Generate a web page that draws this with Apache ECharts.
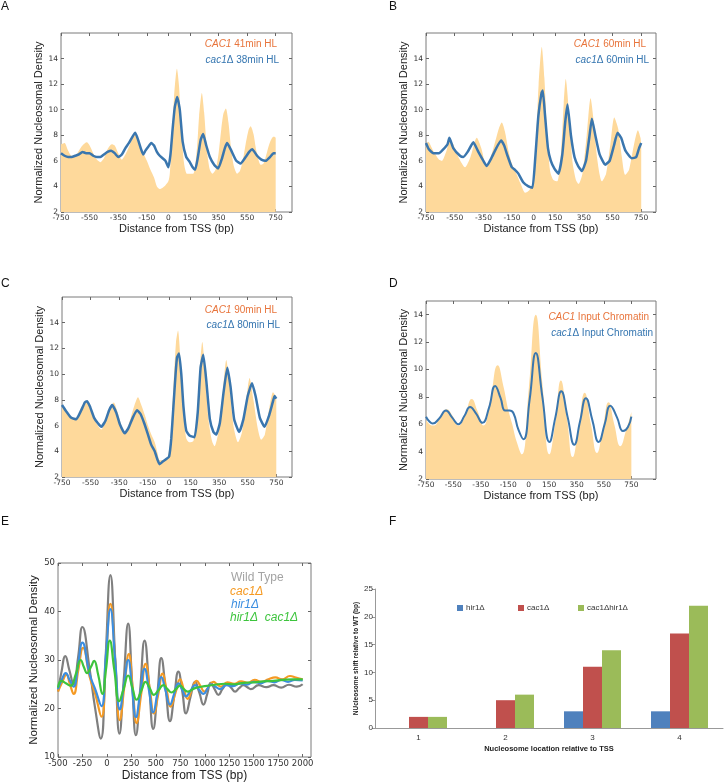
<!DOCTYPE html>
<html><head><meta charset="utf-8">
<script src="https://cdn.jsdelivr.net/npm/echarts@6/dist/echarts.min.js"></script>
<style>html,body{margin:0;padding:0;background:#fff}#c{width:724px;height:783px}</style>
</head><body><div id="c"></div>
<script>
// ---------- Panel A ----------
const aFillX=[-750,-725,-700,-675,-650,-625,-600,-570,-550,-525,-500,-475,-450,-425,-395,-375,-350,-325,-300,-275,-250,-231,-210,-190,-170,-150,-125,-100,-80,-60,-40,-20,0,10,25,40,60,75,90,110,130,150,175,200,215,234,250,270,290,308,330,350,370,385,402,420,440,460,481,500,520,540,560,575,595,615,645,665,685,705,725,738,750];
const aFill=[7.3,7.4,6.8,6.4,6.4,6.8,7.2,7.45,7.2,6.6,6.1,5.9,6.2,6.9,7.3,7.2,6.6,6.1,6.5,7.1,7.8,8.2,7.6,7.0,6.5,6.0,5.3,4.7,4.0,3.8,3.9,4.1,4.4,5.0,7.5,11.0,13.2,11.8,8.5,5.8,5.0,5.0,5.0,7.0,9.5,11.3,9.8,6.8,5.3,5.0,5.3,6.5,8.5,9.7,10.1,9.0,6.8,5.5,5.0,5.2,6.0,7.3,8.4,8.7,8.1,6.8,5.7,5.8,6.5,7.3,7.8,7.9,7.8];
const aBlueX=[-750,-725,-700,-675,-650,-625,-600,-575,-550,-525,-500,-475,-450,-425,-400,-375,-350,-325,-300,-275,-250,-231,-210,-190,-175,-160,-140,-120,-100,-80,-60,-40,-20,0,15,30,45,62,80,100,125,150,170,187,205,225,243,265,290,320,348,375,395,411,440,475,505,540,565,586,620,650,680,710,735,750];
const aBlue=[6.6,6.4,6.3,6.3,6.4,6.5,6.7,6.6,6.6,6.4,6.3,6.3,6.5,6.7,6.8,6.6,6.3,6.5,7.0,7.4,7.9,8.2,7.6,6.9,6.5,6.8,7.1,7.4,7.2,6.7,6.4,6.2,6.0,5.5,6.5,8.5,10.2,11.0,10.0,7.5,6.3,5.9,5.5,5.3,6.2,7.6,8.1,7.2,6.3,5.7,5.4,6.2,7.0,7.4,6.8,6.0,5.8,6.3,6.7,6.9,6.4,6.1,6.0,6.3,6.6,6.6];
// ---------- Panel B ----------
const bFillX=[-750,-735,-700,-660,-640,-610,-583,-560,-520,-478,-440,-396,-365,-327,-280,-240,-222,-200,-175,-152,-120,-90,-59,-30,-5,15,35,57,75,95,115,138,165,190,210,224,245,270,295,313,340,370,397,420,445,476,505,535,562,590,615,638,665,700,727,745,750];
const bFill=[7.3,7.5,6.8,6.1,6.0,6.7,7.6,7.3,6.2,5.5,6.3,7.8,7.0,5.5,7.0,8.6,9.0,8.3,6.8,5.8,5.0,4.2,3.5,3.7,4.3,7.0,12.0,14.9,12.5,8.0,5.2,4.5,4.4,6.5,10.5,12.4,10.0,6.0,4.5,4.2,5.0,8.0,10.9,9.0,6.0,4.4,5.0,7.3,9.4,8.5,6.3,4.9,5.3,7.3,8.4,7.8,7.2];
const bBlueX=[-750,-730,-699,-660,-630,-600,-587,-560,-513,-490,-460,-420,-385,-350,-327,-295,-260,-227,-205,-185,-152,-130,-106,-71,-36,-8,10,33,55,64,80,100,120,145,173,200,220,236,260,285,310,336,365,390,406,430,460,499,530,560,585,610,640,685,715,735,750];
const bBlue=[7.4,6.9,6.6,6.6,6.9,7.3,7.8,7.0,6.4,6.3,6.7,7.45,6.7,6.0,5.6,6.2,7.0,7.6,7.2,6.5,5.5,5.3,5.0,4.3,4.0,3.9,6.0,9.5,11.3,11.5,9.5,7.0,6.0,5.4,5.0,6.5,9.0,10.4,8.0,6.3,5.6,5.2,6.0,8.0,9.3,8.0,6.5,5.7,6.0,7.2,8.2,7.8,6.8,6.2,6.3,7.0,7.4];
// ---------- Panel C ----------
const cFillX=[-750,-720,-685,-650,-610,-575,-545,-510,-475,-440,-410,-388,-360,-335,-311,-280,-245,-218,-195,-170,-148,-125,-101,-80,-67,-45,-20,-8,10,30,48,62,80,100,120,143,170,195,215,232,250,275,300,318,345,375,400,420,450,482,510,540,563,590,620,645,670,700,727,745,750];
const cFill=[7.6,7.2,6.6,6.5,7.2,7.9,7.3,6.2,5.7,6.5,7.4,7.8,7.0,6.0,5.4,6.2,7.5,8.2,7.6,6.8,6.0,5.3,4.7,3.8,3.3,3.3,3.4,3.6,5.0,9.0,12.5,13.4,11.0,7.0,5.0,4.7,4.8,7.0,10.5,12.5,10.5,6.5,4.8,4.4,5.5,8.5,11.1,9.5,6.0,4.7,5.5,8.0,9.7,8.0,5.8,4.9,5.3,7.3,8.6,8.3,8.0];
const cBlueX=[-750,-720,-685,-650,-615,-590,-575,-555,-525,-500,-475,-445,-420,-398,-370,-345,-311,-285,-255,-225,-200,-175,-148,-125,-101,-80,-67,-45,-20,0,15,30,45,55,69,85,100,120,145,178,200,220,239,260,285,310,330,355,380,407,430,455,490,520,550,580,605,635,668,700,725,738,750];
const cBlue=[7.6,7.1,6.6,6.5,7.2,7.8,7.9,7.5,6.6,6.2,5.9,6.4,7.2,7.6,7.0,6.1,5.4,5.8,6.6,7.2,6.9,6.2,5.3,4.5,4.0,3.3,3.0,3.2,3.4,3.6,5.0,7.5,10.0,11.3,11.6,10.0,7.5,5.6,5.2,5.1,7.0,10.5,11.5,9.5,6.5,5.5,5.3,6.2,8.5,10.5,9.0,6.5,5.5,6.5,8.3,9.3,8.3,6.6,5.9,6.8,7.8,8.3,8.1];
// ---------- Panel D ----------
const dFillX=[-750,-725,-696,-650,-599,-555,-513,-465,-416,-375,-330,-280,-226,-185,-148,-120,-90,-50,0,52,100,152,195,235,280,321,365,409,455,499,540,584,625,670,710,750];
const dFill=[6.3,6.0,5.9,6.4,7.1,6.6,5.9,6.7,7.85,7.0,5.9,7.8,10.3,8.8,7.0,6.0,4.8,3.8,8.5,14.0,9.0,3.8,6.2,9.2,6.4,3.6,5.8,8.3,6.0,3.9,5.6,7.6,6.0,4.4,5.5,6.9];
const dBlueX=[-750,-725,-701,-655,-604,-560,-513,-470,-428,-385,-338,-290,-245,-205,-172,-140,-111,-75,-38,7,52,100,152,195,238,285,333,375,418,465,511,555,596,645,689,725,750];
const dBlue=[6.55,6.2,6.05,6.4,7.0,6.5,6.0,6.6,7.25,6.8,6.1,7.2,8.8,7.9,7.0,7.0,6.8,5.6,4.9,7.8,11.2,8.0,4.7,6.5,8.4,6.5,4.5,6.2,7.9,6.3,4.7,6.0,7.35,6.5,5.5,5.8,6.55];
// ---------- Panel E ----------
const eWTX=[-500,-465,-425,-385,-340,-295,-251,-176,-124,-63,-15,36,85,128,172,217,258,296,340,385,430,473,515,555,600,644,687,730,770,808,855,900,945,986,1025,1061,1100,1139,1180,1225,1268,1310,1350,1395,1435,1470,1550,1630,1700,1780,1860,1940,2000];
const eWT=[23.5,27.5,30.8,28,25,30.5,36.8,28,20.5,13.8,30,47.5,30,14.8,26,37.5,25,14.5,24,34,25,15.8,23,30.4,24,17.4,22.5,27.6,23.5,19,22.5,25.5,23.2,20.8,23,25.3,24,22.8,24,25,24.3,23.5,24.2,24.8,24.4,24.0,24.8,24.4,24.8,24.3,24.9,24.5,25.0];
const eCacX=[-500,-455,-415,-378,-340,-292,-244,-176,-120,-56,-10,36,84,132,178,224,264,303,350,395,438,480,525,569,610,651,700,747,785,825,870,917,956,996,1040,1088,1125,1163,1230,1300,1370,1440,1510,1580,1650,1720,1790,1870,1930,2000];
const eCac=[23.5,25.5,27.0,25,23.0,28,32.5,26.5,23,18.3,30,41.6,30,17.6,24.5,31.2,24,17.0,23,29.2,24,19.0,23,27.2,23.8,20.4,23.2,26.0,24,22,24,25.7,24.6,23.5,24.5,25.5,25,24.5,25.4,25.1,25.6,25.3,25.9,25.5,26.0,26.4,26.0,26.7,26.4,26.0];
const eHirX=[-500,-460,-421,-380,-340,-295,-251,-176,-120,-56,-10,36,84,132,175,217,258,296,340,385,430,473,515,555,600,644,687,730,770,808,855,900,945,986,1025,1061,1110,1155,1220,1290,1360,1430,1500,1570,1640,1710,1780,1850,1920,2000];
const eHir=[24,26,27.3,25.8,24.5,29,33.6,27,24,20.5,31,40.5,30,19.8,25,30.0,24,18.2,23.2,28.2,23.7,19.2,23,26.5,23.6,20.8,23,25.2,23.8,22.5,23.7,24.8,23.8,23,24,25,24.5,24,24.8,24.6,25.2,24.9,25.5,25.2,25.7,25.4,25.9,25.5,25.9,25.8];
const eDblX=[-500,-466,-420,-370,-320,-268,-235,-203,-165,-131,-90,-46,-10,29,75,125,170,217,260,303,350,395,437,480,528,576,618,661,705,747,785,822,900,1000,1100,1200,1300,1400,1500,1600,1700,1800,1900,2000];
const eDbl=[24.3,25.7,25.2,24.7,27,30.0,28.5,27.3,28.5,29.8,27,23.0,28,34.0,28,21.5,24,26.8,24.3,21.8,23.6,25.5,24.2,22.8,23.8,24.8,24,23.3,24,24.7,24,23.5,24.2,24.6,24.9,25.1,25.0,25.3,25.4,25.6,25.7,25.9,26.0,26.0];
// ---------- Panel F ----------
const fCats=['1','2','3','4'];
const fHir=[0,0,3,3];
const fCac=[2,5,11,17];
const fDbl=[2,6,14,22];
// ---------- tick labels ----------
const tssTicks=[-750,-550,-350,-150,0,150,350,550,750];
const densTicks=[2,4,6,8,10,12,14];
const eXTicks=[-500,-250,0,250,500,750,1000,1250,1500,1750,2000];
const eYTicks=[10,20,30,40,50];

const pair=(xs,ys)=>xs.map((x,i)=>[x,ys[i]]);
const FILL='#FED99B', BLUE='#3A76AE', ORANGE_T='#E8743B', BLUE_T='#3475B0';
const TF='Liberation Sans', NF='DejaVu Sans';
const plain=v=>String(v);

const grids=[
  {left:61,top:33,width:231,height:179},
  {left:426,top:33,width:230,height:179},
  {left:62,top:297,width:230,height:180},
  {left:426,top:301,width:230,height:178},
  {left:58,top:563,width:253,height:196},
  {left:375,top:589,width:348,height:139}
].map(g=>Object.assign({show:true,borderColor:'#7a7a7a',borderWidth:1,backgroundColor:'transparent'},g));
grids[5].show=false;

const xMaxes=[864,853,860,930];
const xAxes=[], yAxes=[];
const tick=(vals)=>({inside:true,length:3,lineStyle:{color:'#666'},customValues:vals});
function mirrorX(gi,min,max,vals){return {type:'value',gridIndex:gi,position:'top',min:min,max:max,axisLine:{show:false,onZero:false},splitLine:{show:false},axisTick:tick(vals),axisLabel:{show:false}};}
function mirrorY(gi,min,max,vals){return {type:'value',gridIndex:gi,position:'right',min:min,max:max,axisLine:{show:false,onZero:false},splitLine:{show:false},axisTick:tick(vals),axisLabel:{show:false}};}
for(let i=0;i<4;i++){
  xAxes.push({type:'value',gridIndex:i,min:-750,max:xMaxes[i],position:'bottom',
    name:'Distance from TSS (bp)',nameLocation:'middle',nameGap:11,
    nameTextStyle:{fontFamily:TF,fontSize:11,color:'#222'},
    axisLine:{show:false,onZero:false},splitLine:{show:false},
    axisTick:tick(tssTicks),
    axisLabel:{customValues:tssTicks,formatter:plain,fontFamily:NF,fontSize:7.5,color:'#333',margin:2}});
  yAxes.push({type:'value',gridIndex:i,min:2,max:i===3?15:16,position:'left',
    name:'Normalized Nucleosomal Density',nameLocation:'middle',nameGap:13,
    nameTextStyle:{fontFamily:TF,fontSize:11,color:'#222'},
    axisLine:{show:false,onZero:false},splitLine:{show:false},
    axisTick:tick(densTicks),
    axisLabel:{customValues:densTicks,formatter:plain,fontFamily:NF,fontSize:7.5,color:'#333',margin:3}});
}
xAxes.push({type:'value',gridIndex:4,min:-500,max:2085,position:'bottom',
  name:'Distance from TSS (bp)',nameLocation:'middle',nameGap:13,
  nameTextStyle:{fontFamily:TF,fontSize:12,color:'#222'},
  axisLine:{show:false,onZero:false},splitLine:{show:false},
  axisTick:tick(eXTicks),
  axisLabel:{customValues:eXTicks,formatter:plain,fontFamily:NF,fontSize:8.5,color:'#333',margin:2}});
yAxes.push({type:'value',gridIndex:4,min:10,max:50,position:'left',
  name:'Normalized Nucleosomal Density',nameLocation:'middle',nameGap:16,
  nameTextStyle:{fontFamily:TF,fontSize:11.5,color:'#222'},
  axisLine:{show:false,onZero:false},splitLine:{show:false},
  axisTick:tick(eYTicks),
  axisLabel:{customValues:eYTicks,formatter:plain,fontFamily:NF,fontSize:8.5,color:'#333',margin:3}});
xAxes.push({type:'category',gridIndex:5,data:fCats,position:'bottom',
  name:'Nucleosome location relative to TSS',nameLocation:'middle',nameGap:17,
  nameTextStyle:{fontFamily:TF,fontSize:7.5,fontWeight:'bold',color:'#222'},
  axisLine:{lineStyle:{color:'#999'}},axisTick:{length:3,lineStyle:{color:'#999'}},
  axisLabel:{fontFamily:TF,fontSize:8,color:'#333',margin:6}});
yAxes.push({type:'value',gridIndex:5,min:0,max:25,interval:5,position:'left',
  name:'NUcleosome shift relative to WT (bp)',nameLocation:'middle',nameGap:15,
  nameTextStyle:{fontFamily:TF,fontSize:6.5,fontWeight:'bold',color:'#222'},
  axisLine:{show:true,onZero:false,lineStyle:{color:'#999'}},axisTick:{show:true,length:3,lineStyle:{color:'#999'}},
  splitLine:{show:false},
  axisLabel:{fontFamily:TF,fontSize:8,color:'#333',margin:2}});
// mirrored inside ticks on top/right (matplotlib style)
for(let i=0;i<4;i++){ xAxes.push(mirrorX(i,-750,xMaxes[i],tssTicks)); yAxes.push(mirrorY(i,2,i===3?15:16,densTicks)); }
xAxes.push(mirrorX(4,-500,2085,eXTicks)); yAxes.push(mirrorY(4,10,50,eYTicks));

const panelData=[[aFillX,aFill,aBlueX,aBlue],[bFillX,bFill,bBlueX,bBlue],[cFillX,cFill,cBlueX,cBlue],[dFillX,dFill,dBlueX,dBlue]];
const series=[];
const fillNames=['CAC1 41min HL','CAC1 60min HL','CAC1 90min HL','CAC1 Input Chromatin'];
const blueNames=['cac1Δ 38min HL','cac1Δ 60min HL','cac1Δ 80min HL','cac1Δ Input Chromatin'];
panelData.forEach((p,i)=>{
  series.push({type:'line',name:fillNames[i],xAxisIndex:i,yAxisIndex:i,data:pair(p[0],p[1]),
    showSymbol:false,smooth:i===3?0.5:0.25,lineStyle:{width:0},itemStyle:{color:FILL},
    areaStyle:{color:FILL,opacity:1,origin:'start'},silent:true,z:1});
  series.push({type:'line',name:blueNames[i],xAxisIndex:i,yAxisIndex:i,data:pair(p[2],p[3]),
    showSymbol:false,smooth:i===3?0.5:0.15,lineStyle:{width:i===3?2:2.5,color:BLUE},itemStyle:{color:BLUE},z:2});
});
const eSeries=[['Wild Type (E)',eWTX,eWT,'#7F7F7F'],['cac1Δ (E)',eCacX,eCac,'#F59A23'],['hir1Δ (E)',eHirX,eHir,'#3C8EE0'],['hir1Δ cac1Δ (E)',eDblX,eDbl,'#3DC43D']];
eSeries.forEach(s=>series.push({type:'line',name:s[0],xAxisIndex:4,yAxisIndex:4,data:pair(s[1],s[2]),
  showSymbol:false,smooth:0.5,lineStyle:{width:2.2,color:s[3]},itemStyle:{color:s[3]}}));
[['hir1Δ',fHir,'#4F81BD'],['cac1Δ',fCac,'#C0504D'],['cac1Δhir1Δ',fDbl,'#9BBB59']].forEach(s=>series.push({
  type:'bar',name:s[0],xAxisIndex:5,yAxisIndex:5,data:s[1],barWidth:19,barGap:'0%',itemStyle:{color:s[2]}}));

function legendText(x,y,txt,color,size,align){
  return {type:'text',x:x,y:y,style:{text:txt,fill:color,fontSize:size,fontFamily:TF,
    align:align||'right',textAlign:align||'right',verticalAlign:'middle',textVerticalAlign:'middle',
    rich:{i:{fontStyle:'italic',fill:color,fontSize:size,fontFamily:TF}}}};
}
function letter(x,y,t){return {type:'text',x:x,y:y,style:{text:t,fill:'#111',fontSize:12,fontFamily:TF,align:'left',textAlign:'left',verticalAlign:'middle',textVerticalAlign:'middle'}};}
const graphics=[
  letter(1,7,'A'),letter(389,7,'B'),letter(1,284,'C'),letter(389,284,'D'),letter(1,522,'E'),letter(389,522,'F'),
  legendText(277,44,'{i|CAC1} 41min HL',ORANGE_T,10),
  legendText(279,60,'{i|cac1}Δ 38min HL',BLUE_T,10),
  legendText(646,44,'{i|CAC1} 60min HL',ORANGE_T,10),
  legendText(649,60,'{i|cac1}Δ 60min HL',BLUE_T,10),
  legendText(277,310,'{i|CAC1} 90min HL',ORANGE_T,10),
  legendText(280,325,'{i|cac1}Δ 80min HL',BLUE_T,10),
  legendText(649,317,'{i|CAC1} Input Chromatin',ORANGE_T,10),
  legendText(653,333,'{i|cac1}Δ Input Chromatin',BLUE_T,10),
  legendText(231,578,'Wild Type','#A3A3A3',12,'left'),
  legendText(230,592,'{i|cac1Δ}','#F59A23',12,'left'),
  legendText(231,605,'{i|hir1Δ}','#3C8EE0',12,'left'),
  legendText(230,618,'{i|hir1Δ  cac1Δ}','#3DC43D',12,'left')
];
const legends=[['hir1Δ',457],['cac1Δ',518],['cac1Δhir1Δ',578]].map(l=>({data:[l[0]],left:l[1],top:604,padding:0,
  icon:'rect',itemWidth:6,itemHeight:6,itemGap:0,selectedMode:false,textStyle:{fontFamily:TF,fontSize:8,color:'#333',padding:[0,0,0,-2]}}));

const chart=echarts.init(document.getElementById('c'),null,{renderer:'canvas'});
chart.setOption({animation:false,backgroundColor:'#fff',grid:grids,xAxis:xAxes,yAxis:yAxes,series:series,graphic:graphics,legend:legends});
</script></body></html>
